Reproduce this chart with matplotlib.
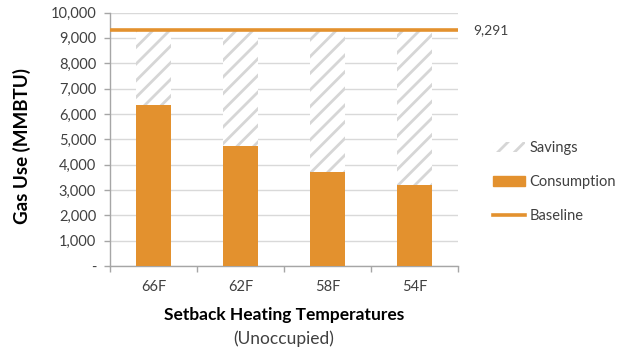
import matplotlib
matplotlib.use("Agg")
import matplotlib.pyplot as plt
from matplotlib.patches import Patch
from matplotlib.lines import Line2D
import numpy as np

categories = ["66F", "62F", "58F", "54F"]
consumption = [6350, 4740, 3700, 3200]
baseline = 9291
savings = [baseline - c for c in consumption]
yticks = [0, 1000, 2000, 3000, 4000, 5000, 6000, 7000, 8000, 9000, 10000]
ytick_labels = ["-", "1,000", "2,000", "3,000", "4,000", "5,000", "6,000",
                "7,000", "8,000", "9,000", "10,000"]

orange = "#E3912E"
grid_c = "#D9D9D9"
axis_c = "#A6A6A6"
text_c = "#404040"

plt.rcParams['font.family'] = ['Lato', 'DejaVu Sans']
plt.rcParams['hatch.linewidth'] = 2.0

fig = plt.figure(figsize=(6.19, 3.51), dpi=100)
ax = fig.add_axes([110/619, 1-266/351, (458-110)/619, (266-12.5)/351])

x = np.arange(len(categories))
ax.bar(x, consumption, width=0.4, color=orange, zorder=3)
ax.bar(x, savings, width=0.4, bottom=consumption, facecolor="white",
       edgecolor="#D6D6D6", hatch="//", linewidth=0, zorder=3)
ax.axhline(baseline, color=orange, linewidth=2.6, zorder=4)

ax.set_xlim(-0.5, len(categories) - 0.5)
ax.set_ylim(0, 10000)
ax.set_yticks(yticks)
ax.set_yticklabels(ytick_labels)
ax.set_xticks(x)
ax.set_xticklabels(categories)
ax.set_xticks(np.arange(-0.5, len(categories)), minor=True)
ax.tick_params(axis='x', which='major', length=0, pad=10, labelsize=10.5, colors=text_c)
ax.tick_params(axis='x', which='minor', length=4, color=axis_c, width=1)
ax.tick_params(axis='y', length=4, color=axis_c, width=1, labelsize=10.5, colors=text_c, pad=6)
ax.yaxis.grid(True, color=grid_c, linewidth=1, zorder=0)
ax.set_axisbelow(True)
for s in ["top", "right"]:
    ax.spines[s].set_visible(False)
for s in ["left", "bottom"]:
    ax.spines[s].set_color(axis_c)
    ax.spines[s].set_linewidth(1)

ax.text(1.045, baseline, "{:,}".format(baseline), transform=ax.get_yaxis_transform(),
        va="center", ha="left", fontsize=10, color=text_c)

fig.text(22/619, 1-146/351, "Gas Use (MMBTU)", rotation=90, ha="center", va="center",
         fontsize=13.5, fontweight="bold", color="black")
fig.text(284/619, 1-315/351, "Setback Heating Temperatures", ha="center", va="center",
         fontsize=12.5, fontweight="bold", color="black")
fig.text(284/619, 1-339/351, "(Unoccupied)", ha="center", va="center",
         fontsize=12.5, color=text_c)

handles = [
    Patch(facecolor="white", edgecolor="#D6D6D6", hatch="//", linewidth=0),
    Patch(facecolor=orange, edgecolor=orange),
    Line2D([0], [0], color=orange, linewidth=2.6),
]
fig.legend(handles, ["Savings", "Consumption", "Baseline"], loc="center left",
           bbox_to_anchor=(480/619, 1-182/351), frameon=False, fontsize=10.5,
           labelcolor=text_c, handlelength=2.2, handletextpad=0.3, labelspacing=1.35)

fig.savefig("out.png", dpi=100)
